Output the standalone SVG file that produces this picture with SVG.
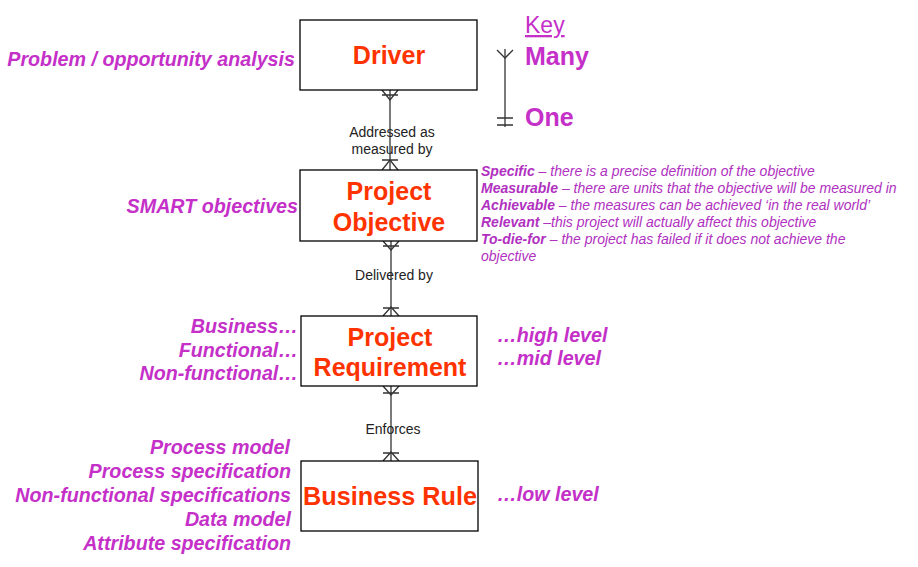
<svg xmlns="http://www.w3.org/2000/svg" width="918" height="567" viewBox="0 0 918 567">
<style>
.box{fill:#fff;stroke:#000;stroke-width:1.3}
.bl{font-family:"Liberation Sans",Arial,sans-serif;font-weight:bold;font-size:25px;fill:#FF3300;text-anchor:middle}
.ml{font-family:"Liberation Sans",Arial,sans-serif;font-weight:bold;font-style:italic;font-size:19.7px;fill:#C430C8}
.end{text-anchor:end}
.cl{font-family:"Liberation Sans",Arial,sans-serif;font-size:14px;fill:#222;text-anchor:middle}
.sm{font-family:"Liberation Sans",Arial,sans-serif;font-style:italic;font-size:14px;fill:#B030C0}
.sm tspan.b{font-weight:bold}
.ln{stroke:#333;stroke-width:1.3;fill:none}
.key{font-family:"Liberation Sans",Arial,sans-serif;fill:#C430C8}
</style>
<g id="connectors">
<line class="ln" x1="390" y1="90" x2="390" y2="170"/>
<path class="ln" d="M382,90 L390,100 L398,90 M382,95 H398"/>
<path class="ln" d="M382,170 L390,160 L398,170 M382,160 H398"/>
<line class="ln" x1="391" y1="241" x2="391" y2="316"/>
<path class="ln" d="M383,241 L391,250 L399,241 M383,246 H399"/>
<path class="ln" d="M383,316 L391,307 L399,316 M383,308 H399"/>
<line class="ln" x1="391" y1="386" x2="391" y2="461"/>
<path class="ln" d="M383,386 L391,395 L399,386 M383,393 H399"/>
<path class="ln" d="M383,461 L391,452 L399,461 M383,453 H399"/>
<text class="cl" x="392" y="137">Addressed as</text>
<text class="cl" x="392" y="154">measured by</text>
<text class="cl" x="394" y="280">Delivered by</text>
<text class="cl" x="393" y="434">Enforces</text>
</g>
<g id="driver">
<rect class="box" x="300" y="20" width="177" height="70"/>
<text class="bl" x="389" y="64">Driver</text>
</g>
<g id="project-objective">
<rect class="box" x="300" y="170" width="177" height="71"/>
<text class="bl" x="389" y="200">Project</text>
<text class="bl" x="389" y="231">Objective</text>
</g>
<g id="project-requirement">
<rect class="box" x="301" y="316" width="176" height="70"/>
<text class="bl" x="390" y="346">Project</text>
<text class="bl" x="390" y="376">Requirement</text>
</g>
<g id="business-rule">
<rect class="box" x="301" y="461" width="177" height="70"/>
<text class="bl" x="390" y="505" textLength="174" lengthAdjust="spacingAndGlyphs">Business Rule</text>
</g>
<g id="left-labels">
<text class="ml end" x="295" y="66">Problem / opportunity analysis</text>
<text class="ml end" x="298" y="213">SMART objectives</text>
<text class="ml end" x="298" y="333">Business…</text>
<text class="ml end" x="298" y="357">Functional…</text>
<text class="ml end" x="298" y="380">Non-functional…</text>
<text class="ml end" x="290" y="454">Process model</text>
<text class="ml end" x="291" y="478">Process specification</text>
<text class="ml end" x="291" y="502">Non-functional specifications</text>
<text class="ml end" x="291" y="526">Data model</text>
<text class="ml end" x="291" y="550">Attribute specification</text>
</g>
<g id="right-labels">
<text class="ml" x="497" y="342">…high level</text>
<text class="ml" x="497" y="365">…mid level</text>
<text class="ml" x="497" y="501">…low level</text>
</g>
<g id="smart">
<text class="sm" x="481" y="176"><tspan class="b">Specific</tspan> – there is a precise definition of the objective</text>
<text class="sm" x="481" y="193"><tspan class="b">Measurable</tspan> – there are units that the objective will be measured in</text>
<text class="sm" x="481" y="210"><tspan class="b">Achievable</tspan> – the measures can be achieved ‘in the real world’</text>
<text class="sm" x="481" y="227"><tspan class="b">Relevant</tspan> –this project will actually affect this objective</text>
<text class="sm" x="481" y="244"><tspan class="b">To-die-for</tspan> – the project has failed if it does not achieve the</text>
<text class="sm" x="481" y="261">objective</text>
</g>
<g id="key">
<text class="key" x="525" y="33" font-size="23" text-decoration="underline">Key</text>
<text class="key" x="525" y="65" font-size="25" font-weight="bold">Many</text>
<text class="key" x="525" y="126" font-size="25" font-weight="bold">One</text>
<line class="ln" x1="505" y1="49" x2="505" y2="127"/>
<path class="ln" d="M497,50 L505,58 L513,50"/>
<path class="ln" d="M497,118 H513 M497,125 H513"/>
</g>
</svg>
